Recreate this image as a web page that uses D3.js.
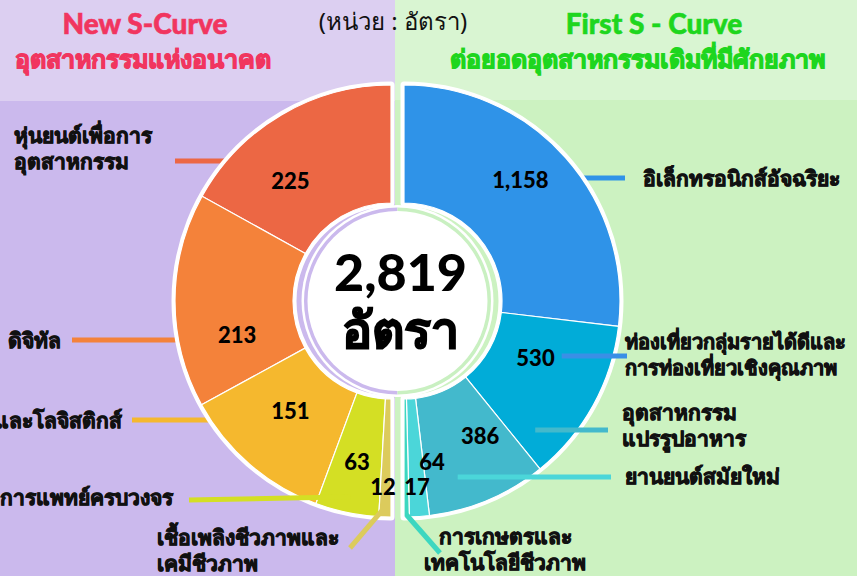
<!DOCTYPE html>
<meta charset="utf-8">
<style>
body { margin: 0; }
text { font-family: "Noto Sans", Lato, sans-serif; }
.cat { font-size: 21px; font-weight: 900; fill: #111; stroke: #111; stroke-width: 0.9px; paint-order: stroke; }
.num { font-size: 22px; font-weight: 900; fill: #000; font-family: Lato, "Noto Sans", sans-serif; }
.head { font-weight: 900; paint-order: stroke; }
</style>
<svg width="857" height="576"></svg>
<script src="https://d3js.org/d3.v7.min.js"></script>
<script>

// New S-Curve (left half)
var leftCats   = ["หุ่นยนต์เพื่อการอุตสาหกรรม", "ดิจิทัล", "การบินและโลจิสติกส์", "การแพทย์ครบวงจร", "เชื้อเพลิงชีวภาพและเคมีชีวภาพ"];
var leftValues = [225, 213, 151, 63, 12];
var leftColors = ["#ec6744", "#f4823a", "#f5b82e", "#d4df24", "#dccb5c"];

// First S-Curve (right half)
var rightCats   = ["อิเล็กทรอนิกส์อัจฉริยะ", "ท่องเที่ยวกลุ่มรายได้ดีและการท่องเที่ยวเชิงคุณภาพ", "อุตสาหกรรมแปรรูปอาหาร", "ยานยนต์สมัยใหม่", "การเกษตรและเทคโนโลยีชีวภาพ"];
var rightValues = [1158, 530, 386, 64, 17];
var rightColors = ["#2f93e8", "#01acd8", "#43b9cc", "#4bd6d9", "#3cd7c0"];

var unitLabel = "(หน่วย : อัตรา)";

var svg = d3.select("svg"),
    width = +svg.attr("width"),
    height = +svg.attr("height");

var cx = 397.5, cy = 301, shift = 6.5,
    rIn = 98, rOut = 216;

// backgrounds
svg.append("rect").attr("width", 395).attr("height", height).attr("fill", "#cbb9ed");
svg.append("rect").attr("width", 395).attr("height", 101).attr("fill", "#dccff1");
svg.append("rect").attr("x", 395).attr("width", width - 395).attr("height", height).attr("fill", "#ccf2c1");
svg.append("rect").attr("x", 395).attr("width", width - 395).attr("height", 100).attr("fill", "#d9f5d2");

// headers (title + subtitle in one text block per side)
function header(x, title, sub, subX, subAnchor, color) {
  var t = svg.append("text").attr("class", "head")
      .style("fill", color).style("stroke", color);
  t.append("tspan").attr("x", x).attr("y", 34).attr("text-anchor", "middle")
      .style("font-family", "Lato, sans-serif")
      .style("font-size", "28px").style("stroke-width", "0.6px")
      .text(title);
  t.append("tspan").attr("x", subX).attr("y", 68).attr("text-anchor", subAnchor)
      .style("font-size", "25px").style("stroke-width", "1.2px")
      .text(sub);
}
header(145, "New S-Curve", "อุตสาหกรรมแห่งอนาคต", 143, "middle", "#f1355f");
header(654, "First S - Curve", "ต่อยอดอุตสาหกรรมเดิมที่มีศักยภาพ", 450, "start", "#1ed61e");

svg.append("text").attr("x", 393).attr("y", 30).attr("text-anchor", "middle")
    .style("font-size", "24px").style("fill", "#111")
    .text(unitLabel);

// label layout for the category names, value nudges and leader lines
var leftLayout = [
  {lines: ["หุ่นยนต์เพื่อการ", "อุตสาหกรรม"], x: 14, y: 143, anchor: "start", lx: 175, ly: 161, lr: 157, over: false, ndx: -21, ndy: 15},
  {lines: ["ดิจิทัล"], x: 8, y: 348, anchor: "start", lx: 72, ly: 340, lr: 157, over: false, ndx: 3, ndy: 34},
  {lines: ["การบินและโลจิสติกส์"], x: 122, y: 428, anchor: "end", lx: 132, ly: 420, lr: 157, over: false, ndx: 2, ndy: -9},
  {lines: ["การแพทย์ครบวงจร"], x: 173, y: 505, anchor: "end", lx: 189, ly: 500, lr: 200, over: true, ray: true, ndx: -2, ndy: 7},
  {lines: ["เชื้อเพลิงชีวภาพและ", "เคมีชีวภาพ"], x: 157, y: 545, anchor: "start", lx: 350, ly: 548, lr: 206, over: true, ray: true, ndx: 0, ndy: 0}
];
var rightLayout = [
  {lines: ["อิเล็กทรอนิกส์อัจฉริยะ"], x: 643, y: 186, anchor: "start", lx: 625, ly: 178, lr: 157, over: false, ndx: -1, ndy: -17},
  {lines: ["ท่องเที่ยวกลุ่มรายได้ดีและ", "การท่องเที่ยวเชิงคุณภาพ"], x: 625, y: 349, anchor: "start", size: 20, lx: 627, ly: 356, lr: 167, over: true, color: "#3a8fe6", ndx: -6, ndy: -19},
  {lines: ["อุตสาหกรรม", "แปรรูปอาหาร"], x: 622, y: 420, anchor: "start", lx: 608, ly: 430, lr: 184, over: true, ndx: 15, ndy: -10},
  {lines: ["ยานยนต์สมัยใหม่"], x: 625, y: 484, anchor: "start", lx: 611, ly: 477, lr: 184, over: true, ndx: 4, ndy: 4},
  {lines: ["การเกษตรและ", "เทคโนโลยีชีวภาพ"], x: 505, y: 544, anchor: "middle", lx: 440, ly: 553, lr: 214, over: true, ray: true, ndx: -2, ndy: 0}
];

var underG = svg.append("g");
var pieG = svg.append("g");
var overG = svg.append("g");
var labelG = svg.append("g");

var arc = d3.arc().innerRadius(rIn).outerRadius(rOut);

function half(cats, values, colors, layout, side) {
  var hx = cx + side * shift;
  var pie = d3.pie().sort(null).startAngle(0).endAngle(side * Math.PI);
  var arcs = pie(values);

  var g = pieG.append("g").attr("transform", "translate(" + hx + "," + cy + ")");

  // white frame of the half ring
  g.append("path")
      .attr("d", arc({startAngle: 0, endAngle: side * Math.PI}))
      .attr("fill", "#fff")
      .attr("stroke", "#fff")
      .attr("stroke-width", 7)
      .attr("stroke-linejoin", "round");

  g.selectAll(".slice")
    .data(arcs)
    .enter().append("path")
      .attr("class", "slice")
      .attr("d", arc)
      .attr("fill", function(d, i) { return colors[i]; })
      .attr("stroke", "#fff")
      .attr("stroke-width", 1.2);

  // value labels
  labelG.append("g").attr("transform", "translate(" + hx + "," + cy + ")")
    .selectAll(".num")
    .data(arcs)
    .enter().append("text")
      .attr("class", "num")
      .each(function(d, i) {
        var a = (d.startAngle + d.endAngle) / 2,
            span = Math.abs(d.endAngle - d.startAngle),
            r = span < 0.07 ? 186 : 157,
            anchor = "middle";
        if (span < 0.105) anchor = side < 0 ? "end" : "start";
        d3.select(this)
            .attr("x", r * Math.sin(a) + (anchor == "end" ? 10 : 0) + layout[i].ndx)
            .attr("y", -r * Math.cos(a) + layout[i].ndy)
            .attr("dy", "0.36em")
            .attr("text-anchor", anchor)
            .text(d3.format(",")(d.value));
      });

  // leader lines + category names
  arcs.forEach(function(d, i) {
    var L = layout[i], x2, y2;
    var a = (d.startAngle + d.endAngle) / 2;
    if (L.ray) {
      x2 = hx + L.lr * Math.sin(a);
      y2 = cy - L.lr * Math.cos(a);
    } else {
      var dy = L.ly - cy;
      x2 = hx + side * Math.sqrt(L.lr * L.lr - dy * dy);
      y2 = L.ly;
    }
    (L.over ? overG : underG).append("line")
        .attr("x1", L.lx).attr("y1", L.ly)
        .attr("x2", x2).attr("y2", y2)
        .attr("stroke", L.color || colors[i])
        .attr("stroke-width", 5);

    var t = labelG.append("text")
        .attr("class", "cat")
        .attr("text-anchor", L.anchor);
    if (L.size) t.style("font-size", L.size + "px");
    L.lines.forEach(function(s, k) {
      t.append("tspan").attr("x", L.x).attr("y", L.y + k * 26).text(s);
    });
  });
}

half(leftCats, leftValues, leftColors, leftLayout, -1);
half(rightCats, rightValues, rightColors, rightLayout, 1);

// centre disc with the split ring
pieG.append("circle").attr("cx", cx).attr("cy", cy).attr("r", 96).attr("fill", "#fff");
pieG.append("path")
    .attr("transform", "translate(" + cx + "," + cy + ")")
    .attr("d", d3.arc().innerRadius(90).outerRadius(93.5)({startAngle: -Math.PI, endAngle: 0}))
    .attr("fill", "#cbb9ed");
pieG.append("path")
    .attr("transform", "translate(" + cx + "," + cy + ")")
    .attr("d", d3.arc().innerRadius(90).outerRadius(93.5)({startAngle: 0, endAngle: Math.PI}))
    .attr("fill", "#c9f0c1");

var total = d3.sum(leftValues) + d3.sum(rightValues);
var centre = pieG.append("text").attr("text-anchor", "middle").style("font-weight", 900);
centre.append("tspan").attr("x", cx + 3).attr("y", 291)
    .style("font-family", "Lato, sans-serif").style("font-size", "52px")
    .text(d3.format(",")(total));
centre.append("tspan").attr("x", cx + 3).attr("y", 348)
    .style("font-size", "50px")
    .style("stroke", "#000").style("stroke-width", "1.5px")
    .text("อัตรา");

</script>
